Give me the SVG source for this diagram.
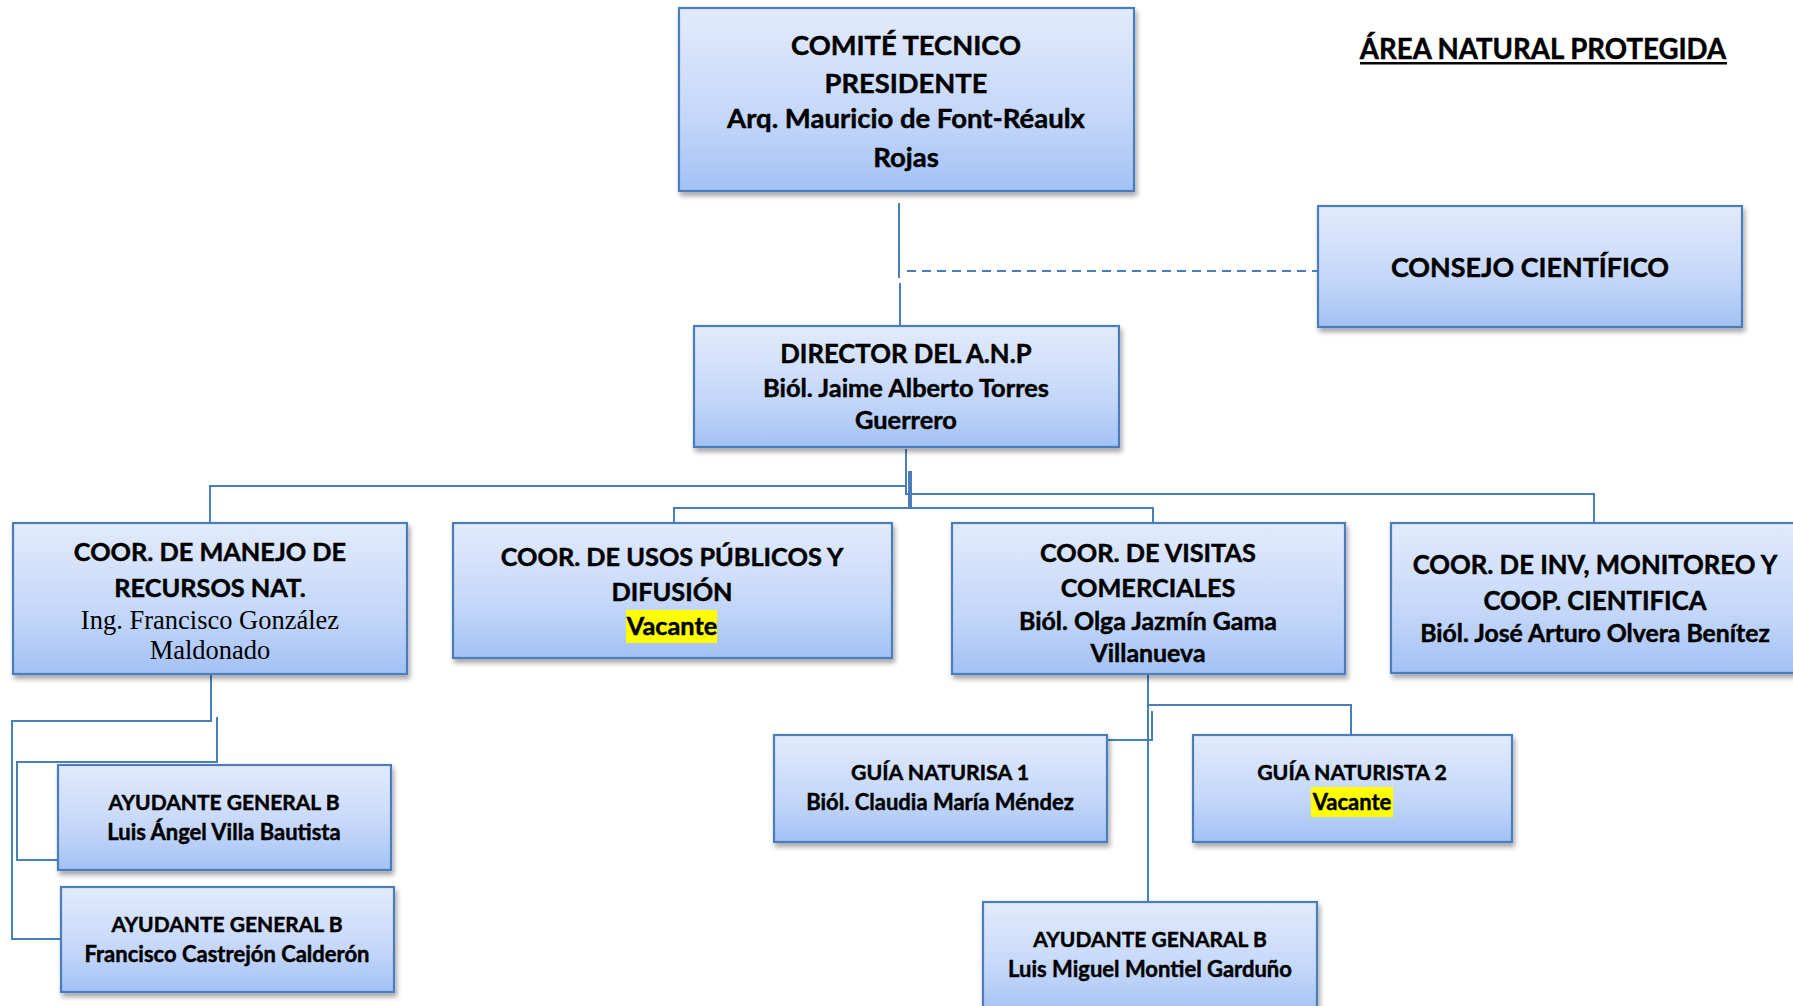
<svg xmlns="http://www.w3.org/2000/svg" width="1793" height="1006" viewBox="0 0 1793 1006">
<defs>
<linearGradient id="g" x1="0" y1="0" x2="0" y2="1">
<stop offset="0" stop-color="#e2ebfc"/>
<stop offset="0.6" stop-color="#c4d7f9"/>
<stop offset="1" stop-color="#a3c1f5"/>
</linearGradient>
<filter id="sh" x="-10%" y="-10%" width="130%" height="140%">
<feDropShadow dx="2" dy="4" stdDeviation="2.5" flood-color="#000" flood-opacity="0.35"/>
</filter>
</defs>
<style>
.box{fill:url(#g);stroke:#4a7ebb;stroke-width:2.2;filter:url(#sh)}
.t{font-family:Lato,"Open Sans","Liberation Sans",sans-serif;font-weight:700;text-anchor:middle;fill:#000;stroke:#000;stroke-width:0.45}
.s{font-family:"Liberation Serif","Times New Roman",serif;text-anchor:middle;fill:#000}
.c{fill:none;stroke:#4a7ebb;stroke-width:2}
.hl{fill:#ffff00}
</style>
<rect width="1793" height="1006" fill="#fff"/>
<g id="connectors">
<path class="c" d="M899,203 V278"/>
<path class="c" d="M900,283 V343"/>
<path class="c" d="M907,271 H1318" stroke-dasharray="9,6"/>
<path class="c" d="M906,449 V486 M210,523 V486 H906 V494 H1594 V532"/>
<path class="c" d="M909,471 V508 M911,471 V508 M674,545 V508 H1153 V542"/>
<path class="c" d="M211,674 V721 H12 V939 H61"/>
<path class="c" d="M217,717 V762 H17 V860 H65"/>
<path class="c" d="M1148,674 V902 M1148,705 H1351 V735"/>
<path class="c" d="M1152,711 V740 H943 V763"/>
</g>
<g id="title">
<text class="t" x="1543" y="59" font-size="27.6">ÁREA NATURAL PROTEGIDA</text>
<rect x="1360" y="62" width="367" height="2.5" fill="#000"/>
</g>
<g id="comite">
<rect class="box" x="679" y="8" width="455" height="183"/>
<text class="t" x="906" y="55" font-size="27.3">COMITÉ TECNICO</text>
<text class="t" x="906" y="93" font-size="27.3">PRESIDENTE</text>
<text class="t" x="906" y="128" font-size="27.5">Arq. Mauricio de Font-Réaulx</text>
<text class="t" x="906" y="167" font-size="27.5">Rojas</text>
</g>
<g id="consejo">
<rect class="box" x="1318" y="206" width="424" height="121"/>
<text class="t" x="1530" y="277" font-size="26.9">CONSEJO CIENTÍFICO</text>
</g>
<g id="director">
<rect class="box" x="694" y="326" width="425" height="121"/>
<text class="t" x="906" y="363" font-size="25.7">DIRECTOR DEL A.N.P</text>
<text class="t" x="906" y="397" font-size="25.4">Biól. Jaime Alberto Torres</text>
<text class="t" x="906" y="429" font-size="25.4">Guerrero</text>
</g>
<g id="manejo">
<rect class="box" x="13" y="523" width="394" height="151"/>
<text class="t" x="210" y="561" font-size="25.3">COOR. DE MANEJO DE</text>
<text class="t" x="210" y="597" font-size="25.3">RECURSOS NAT.</text>
<text class="s" x="210" y="629" font-size="26.5">Ing. Francisco González</text>
<text class="s" x="210" y="659" font-size="26.5">Maldonado</text>
</g>
<g id="usos">
<rect class="box" x="453" y="523" width="439" height="135"/>
<text class="t" x="672" y="566" font-size="25.3">COOR. DE USOS PÚBLICOS Y</text>
<text class="t" x="672" y="601" font-size="25.3">DIFUSIÓN</text>
<rect class="hl" x="626" y="610" width="91" height="33"/>
<text class="t" x="672" y="635" font-size="25.3">Vacante</text>
</g>
<g id="visitas">
<rect class="box" x="952" y="523" width="393" height="151"/>
<text class="t" x="1148" y="562" font-size="25.3">COOR. DE VISITAS</text>
<text class="t" x="1148" y="597" font-size="25.3">COMERCIALES</text>
<text class="t" x="1148" y="630" font-size="24.9">Biól. Olga Jazmín Gama</text>
<text class="t" x="1148" y="662" font-size="24.9">Villanueva</text>
</g>
<g id="inv">
<rect class="box" x="1391" y="523" width="410" height="150"/>
<text class="t" x="1595" y="574" font-size="25.7">COOR. DE INV, MONITOREO Y</text>
<text class="t" x="1595" y="610" font-size="25.7">COOP. CIENTIFICA</text>
<text class="t" x="1595" y="642" font-size="24.8">Biól. José Arturo Olvera Benítez</text>
</g>
<g id="ayudante1">
<rect class="box" x="58" y="765" width="333" height="105"/>
<text class="t" x="224" y="810" font-size="21">AYUDANTE GENERAL B</text>
<text class="t" x="224" y="840" font-size="22">Luis Ángel Villa Bautista</text>
</g>
<g id="ayudante2">
<rect class="box" x="61" y="887" width="333" height="105"/>
<text class="t" x="227" y="932" font-size="21">AYUDANTE GENERAL B</text>
<text class="t" x="227" y="962" font-size="22">Francisco Castrejón Calderón</text>
</g>
<g id="guia1">
<rect class="box" x="774" y="735" width="333" height="107"/>
<text class="t" x="940" y="780" font-size="21.3">GUÍA NATURISA 1</text>
<text class="t" x="940" y="810" font-size="22">Biól. Claudia María Méndez</text>
</g>
<g id="guia2">
<rect class="box" x="1193" y="735" width="319" height="107"/>
<text class="t" x="1352" y="780" font-size="21.3">GUÍA NATURISTA 2</text>
<rect class="hl" x="1311" y="787" width="82" height="30"/>
<text class="t" x="1352" y="810" font-size="22">Vacante</text>
</g>
<g id="ayudante3">
<rect class="box" x="983" y="902" width="334" height="112"/>
<text class="t" x="1150" y="947" font-size="21">AYUDANTE GENARAL B</text>
<text class="t" x="1150" y="977" font-size="22">Luis Miguel Montiel Garduño</text>
</g>
</svg>
